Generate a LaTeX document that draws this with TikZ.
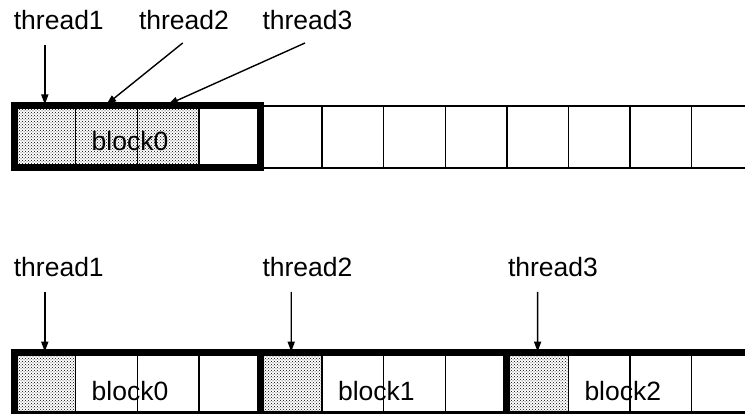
\documentclass[tikz,border=0pt]{standalone}
\usepackage{fontspec}
\setmainfont{Liberation Sans}
\usetikzlibrary{patterns,arrows.meta}
\tikzset{
  cell/.style={draw=black, line width=1.4pt, minimum width=61.6pt, minimum height=62pt, inner sep=0pt, outer sep=0pt},
  shaded/.style={cell, pattern=crosshatch dots, pattern color=black},
  thickbox/.style={draw=black, line width=7pt},
  lbl/.style={font=\fontsize{26.5pt}{30pt}\selectfont, inner sep=0pt, anchor=base},
  arr/.style={draw=black, line width=1.4pt, -{Triangle[length=10pt,width=7pt]}}
}
\begin{document}
\begin{tikzpicture}[x=1pt,y=-1pt]
\path[use as bounding box] (0,0) rectangle (745,414);
\clip (0,0) rectangle (745,414);
% top row cells
\foreach \i in {0,...,11}{
  \ifnum\i<3
    \node[shaded] (t\i) at ({44.8+61.6*\i},137) {};
  \else
    \node[cell] (t\i) at ({44.8+61.6*\i},137) {};
  \fi
}
% bottom row cells
\foreach \i in {0,...,11}{
  \pgfmathtruncatemacro{\m}{mod(\i,4)}
  \ifnum\m=0
    \node[shaded] (b\i) at ({44.8+61.6*\i},383.7) {};
  \else
    \node[cell] (b\i) at ({44.8+61.6*\i},383.7) {};
  \fi
}
% block texts
\node[lbl] (tb0) at (130,151) {block0};
\node[lbl] (bb0) at (130,400) {block0};
\node[lbl] (bb1) at (376.4,400) {block1};
\node[lbl] (bb2) at (622.8,400) {block2};
% thick boxes
\draw[thickbox] (t0.north west) rectangle (t3.south east);
\draw[thickbox] (b0.north west) rectangle (b3.south east);
\draw[thickbox] (b4.north west) rectangle (b7.south east);
\draw[thickbox] (b8.north west) rectangle (b11.south east);
% top labels
\node[lbl] (T1) at (58.8,30) {thread1};
\node[lbl] (T2) at (184,30) {thread2};
\node[lbl] (T3) at (307.5,30) {thread3};
\coordinate (s1) at (44.8,45);
\coordinate (s2) at (182.7,43);
\coordinate (s3) at (305,43);
\coordinate (e1) at ([yshift=1.5pt]t0.north);
\coordinate (e2) at ([yshift=1.5pt]t1.north);
\coordinate (e3) at ([yshift=1.5pt]t2.north);
\draw[arr] (s1) -- (e1);
\draw[arr] (s2) -- (e2);
\draw[arr] (s3) -- (e3);
% bottom labels
\node[lbl] (B1) at (58.8,276.7) {thread1};
\node[lbl] (B2) at (307.5,276.7) {thread2};
\node[lbl] (B3) at (553,276.7) {thread3};
\coordinate (u1) at (44.8,292);
\coordinate (u2) at (291.2,292);
\coordinate (u3) at (537.6,292);
\coordinate (f1) at ([yshift=1pt]b0.north);
\coordinate (f2) at ([yshift=1pt]b4.north);
\coordinate (f3) at ([yshift=1pt]b8.north);
\draw[arr] (u1) -- (f1);
\draw[arr] (u2) -- (f2);
\draw[arr] (u3) -- (f3);
\end{tikzpicture}
\end{document}
